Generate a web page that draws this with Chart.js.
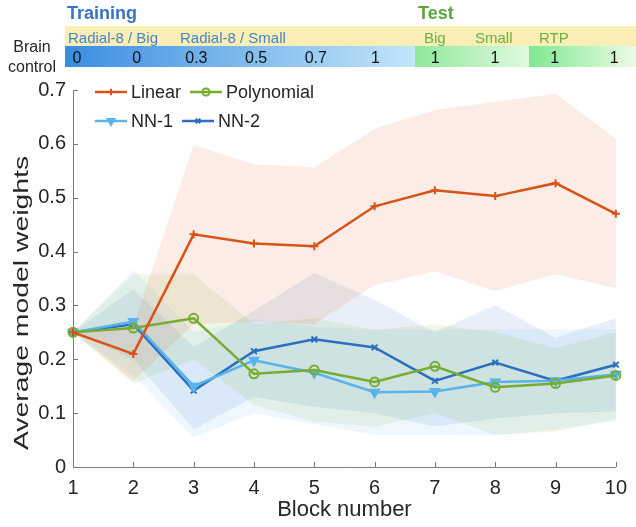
<!DOCTYPE html>
<html>
<head>
<meta charset="utf-8">
<script src="https://cdn.jsdelivr.net/npm/chart.js@4.4.1/dist/chart.umd.min.js"></script>
<style>
  html, body { margin: 0; padding: 0; background: #fff; }
  #wrap { width: 636px; height: 527px; position: relative; }
</style>
</head>
<body>
<div id="wrap"><canvas id="weightsChart"></canvas></div>
<script>
const blocks = ['1', '2', '3', '4', '5', '6', '7', '8', '9', '10'];

const linearMean  = [0.250, 0.210, 0.432, 0.415, 0.410, 0.484, 0.514, 0.503, 0.527, 0.470];
const linearUpper = [0.250, 0.262, 0.598, 0.562, 0.556, 0.628, 0.663, 0.678, 0.693, 0.610];
const linearLower = [0.250, 0.160, 0.265, 0.270, 0.265, 0.338, 0.363, 0.327, 0.358, 0.332];

const polyMean  = [0.250, 0.258, 0.276, 0.173, 0.180, 0.158, 0.187, 0.148, 0.155, 0.170];
const polyUpper = [0.250, 0.358, 0.358, 0.265, 0.276, 0.255, 0.264, 0.250, 0.221, 0.250];
const polyLower = [0.250, 0.155, 0.200, 0.115, 0.084, 0.075, 0.100, 0.060, 0.066, 0.090];

const nn1Mean  = [0.250, 0.270, 0.150, 0.198, 0.175, 0.139, 0.140, 0.158, 0.160, 0.172];
const nn1Upper = [0.250, 0.366, 0.250, 0.275, 0.260, 0.255, 0.255, 0.256, 0.256, 0.256];
const nn1Lower = [0.250, 0.170, 0.055, 0.100, 0.080, 0.060, 0.060, 0.059, 0.070, 0.085];

const nn2Mean  = [0.250, 0.265, 0.142, 0.215, 0.237, 0.222, 0.160, 0.194, 0.160, 0.190];
const nn2Upper = [0.250, 0.330, 0.223, 0.290, 0.360, 0.310, 0.250, 0.301, 0.240, 0.276];
const nn2Lower = [0.250, 0.200, 0.070, 0.130, 0.112, 0.100, 0.075, 0.090, 0.100, 0.103];

const yTickValues = [0, 0.1, 0.2, 0.3, 0.4, 0.5, 0.6, 0.7];

// header above the plot
const phaseLabels = ['Training', 'Test'];
const taskLabels = ['Radial-8 / Big', 'Radial-8 / Small', 'Big', 'Small', 'RTP'];
const brainControl = ['0', '0', '0.3', '0.5', '0.7', '1', '1', '1', '1', '1'];

const SANS = "'Liberation Sans', Arial, Helvetica, sans-serif";
const TEXT = '#262626';

const colors = {
  linear: '#d95319',
  poly: '#77ac30',
  nn1: '#58b4ea',
  nn2: '#2b6fc0'
};

function band(color, alpha) {
  const c = Chart.helpers.color(color);
  return c.alpha(alpha).rgbString();
}

function mainLine(label, data, color, pointStyle, radius, extra) {
  return Object.assign({
    label: label,
    data: data,
    borderColor: color,
    backgroundColor: color,
    borderWidth: 2.5,
    pointStyle: pointStyle,
    pointRadius: radius,
    pointBorderWidth: 2,
    pointBackgroundColor: color,
    pointBorderColor: color,
    fill: false,
    tension: 0
  }, extra || {});
}

function bandEdge(data, color, fillTarget) {
  return {
    label: '',
    data: data,
    borderWidth: 0,
    borderColor: 'rgba(0,0,0,0)',
    backgroundColor: band(color, 0.11),
    pointRadius: 0,
    fill: fillTarget,
    tension: 0
  };
}

const datasets = [
  mainLine('Linear', linearMean, colors.linear, 'cross', 4),
  mainLine('Polynomial', polyMean, colors.poly, 'circle', 4.5, { pointBackgroundColor: 'rgba(255,255,255,0)' }),
  mainLine('NN-1', nn1Mean, colors.nn1, 'triangle', 5, { pointRotation: 180 }),
  mainLine('NN-2', nn2Mean, colors.nn2, 'crossRot', 4),
  bandEdge(linearUpper, colors.linear, false),
  bandEdge(linearLower, colors.linear, '-1'),
  bandEdge(polyUpper, colors.poly, false),
  bandEdge(polyLower, colors.poly, '-1'),
  bandEdge(nn1Upper, colors.nn1, false),
  bandEdge(nn1Lower, colors.nn1, '-1'),
  bandEdge(nn2Upper, colors.nn2, false),
  bandEdge(nn2Lower, colors.nn2, '-1')
];

// MATLAB style ticks pointing into the plot
const innerTicks = {
  id: 'innerTicks',
  afterDraw(chart) {
    const { ctx, chartArea } = chart;
    const x = chart.scales.x, y = chart.scales.y;
    ctx.save();
    ctx.strokeStyle = '#7a7a7a';
    ctx.lineWidth = 1;
    ctx.beginPath();
    y.ticks.forEach((t, i) => {
      const py = Math.round(y.getPixelForTick(i)) + 0.5;
      ctx.moveTo(chartArea.left, py);
      ctx.lineTo(chartArea.left + 5, py);
    });
    x.ticks.forEach((t, i) => {
      const px = Math.round(x.getPixelForTick(i)) + 0.5;
      ctx.moveTo(px, chartArea.bottom);
      ctx.lineTo(px, chartArea.bottom - 5);
    });
    ctx.stroke();
    ctx.restore();
  }
};

// y title, stretched along its length like the original figure
const yTitle = {
  id: 'yTitle',
  afterDraw(chart) {
    const ctx = chart.ctx;
    ctx.save();
    ctx.translate(28, 303);
    ctx.rotate(-Math.PI / 2);
    ctx.scale(1.35, 1);
    ctx.font = '21px ' + SANS;
    ctx.fillStyle = TEXT;
    ctx.textAlign = 'center';
    ctx.textBaseline = 'alphabetic';
    ctx.fillText('Average model weights', 0, 0);
    ctx.restore();
  }
};

// legend drawn inside the axes, two entries per row
const insideLegend = {
  id: 'insideLegend',
  afterDatasetsDraw(chart) {
    const ctx = chart.ctx;
    const items = chart.data.datasets.slice(0, 4);
    const startX = 95, rows = [92, 121];
    ctx.save();
    ctx.font = '18px ' + SANS;
    ctx.textBaseline = 'middle';
    ctx.textAlign = 'left';
    items.forEach((ds, i) => {
      const row = Math.floor(i / 2);
      const y = rows[row];
      let x = startX;
      if (i % 2 === 1) {
        const prev = items[i - 1];
        x = startX + 32 + 4 + ctx.measureText(prev.label).width + 9;
      }
      ctx.strokeStyle = ds.borderColor;
      ctx.lineWidth = ds.borderWidth;
      ctx.beginPath();
      ctx.moveTo(x, y);
      ctx.lineTo(x + 32, y);
      ctx.stroke();
      ctx.fillStyle = ds.pointBackgroundColor;
      ctx.lineWidth = ds.pointBorderWidth;
      Chart.helpers.drawPoint(ctx, {
        pointStyle: ds.pointStyle,
        radius: ds.pointRadius * 0.8,
        rotation: ds.pointRotation || 0,
        borderWidth: ds.pointBorderWidth
      }, x + 16, y);
      ctx.fillStyle = TEXT;
      ctx.fillText(ds.label, x + 36, y + 1);
    });
    ctx.restore();
  }
};

// block/condition header across the top
const conditionHeader = {
  id: 'conditionHeader',
  afterDraw(chart) {
    const ctx = chart.ctx;
    ctx.save();

    ctx.fillStyle = '#f9eeb5';
    ctx.fillRect(65, 26, 571, 20);

    const segs = [
      [65, 415, '#3b8de0', '#c2e6fa'],
      [415, 529, '#8ee99a', '#e2f9e0'],
      [529, 636, '#7fe991', '#ecfbe4']
    ];
    segs.forEach(([x0, x1, c0, c1]) => {
      const g = ctx.createLinearGradient(x0, 0, x1, 0);
      g.addColorStop(0, c0);
      g.addColorStop(1, c1);
      ctx.fillStyle = g;
      ctx.fillRect(x0, 46, x1 - x0, 21);
    });

    ctx.textBaseline = 'alphabetic';
    ctx.textAlign = 'left';
    ctx.font = 'bold 18px ' + SANS;
    ctx.fillStyle = '#3575c3';
    ctx.fillText(phaseLabels[0], 67, 19);
    ctx.fillStyle = '#5ba73b';
    ctx.fillText(phaseLabels[1], 418, 19);

    ctx.font = '15px ' + SANS;
    const taskX = [68, 180, 424, 475, 539];
    taskLabels.forEach((t, i) => {
      ctx.fillStyle = i < 2 ? '#4a83c6' : '#6bb145';
      ctx.fillText(t, taskX[i], 42.5);
    });

    ctx.font = '16px ' + SANS;
    ctx.fillStyle = '#111';
    ctx.textAlign = 'center';
    brainControl.forEach((v, i) => {
      ctx.fillText(v, 77 + i * 59.7, 62.5);
    });

    ctx.fillStyle = TEXT;
    ctx.fillText('Brain', 32, 52);
    ctx.fillText('control', 32, 71.5);
    ctx.restore();
  }
};

new Chart(document.getElementById('weightsChart'), {
  type: 'line',
  data: {
    labels: blocks,
    datasets: datasets
  },
  options: {
    responsive: true,
    maintainAspectRatio: false,
    animation: false,
    layout: {
      padding: { top: 90, right: 13, left: 0, bottom: 0 }
    },
    plugins: {
      legend: { display: false },
      tooltip: { enabled: false }
    },
    scales: {
      x: {
        offset: false,
        afterFit(scale) { scale.height = 60; },
        grid: { display: false, drawTicks: false },
        border: { display: true, color: '#7a7a7a', width: 1 },
        ticks: {
          color: TEXT,
          padding: 9,
          autoSkip: false,
          maxRotation: 0,
          font: { family: SANS, size: 20 }
        },
        title: {
          display: true,
          text: 'Block number',
          color: TEXT,
          padding: { top: 0, bottom: 4 },
          font: { family: SANS, size: 22, lineHeight: 1.2 }
        }
      },
      y: {
        min: 0,
        max: 0.7,
        afterFit(scale) { scale.width = 73; },
        afterBuildTicks(scale) {
          scale.ticks = yTickValues.map(v => ({ value: v }));
        },
        grid: { display: false, drawTicks: false },
        border: { display: true, color: '#7a7a7a', width: 1 },
        ticks: {
          color: TEXT,
          padding: 7,
          font: { family: SANS, size: 20 },
          callback: v => String(Math.round(v * 10) / 10)
        }
      }
    }
  },
  plugins: [innerTicks, yTitle, insideLegend, conditionHeader]
});
</script>
</body>
</html>
